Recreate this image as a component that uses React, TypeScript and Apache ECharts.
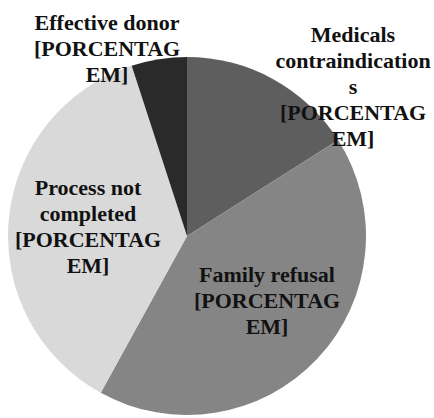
import React, { useEffect, useRef } from "react";
import * as echarts from "echarts";

const categories = [
  "Medicals\ncontraindication\ns",
  "Family refusal",
  "Process not\ncompleted",
  "Effective donor",
];
const values = [16, 42, 37, 5];
const percentLabel = "[PORCENTAG\nEM]";
const sliceColors = ["#5e5e5e", "#858585", "#d9d9d9", "#2a2a2a"];
const labelSpots: [number, number][] = [
  [353, 86],
  [267, 300],
  [88, 226],
  [107, 48],
];
const LINE_H = 26;

export default function App() {
  const ref = useRef<HTMLDivElement>(null);
  useEffect(() => {
    document.body.style.margin = "0";
    const chart = echarts.init(ref.current!, undefined, { renderer: "svg" });
    const labelTexts: any[] = [];
    categories.forEach((c, i) => {
      const lines = (c + "\n" + percentLabel).split("\n");
      lines.forEach((ln, k) => {
        labelTexts.push({
          type: "text",
          x: labelSpots[i][0],
          y: labelSpots[i][1] + (k - (lines.length - 1) / 2) * LINE_H,
          z: 10,
          style: {
            text: ln,
            fontFamily: "Liberation Serif, Times New Roman, serif",
            fontSize: 22,
            fontWeight: "bold",
            fill: "#111111",
            align: "center",
            verticalAlign: "middle",
          },
        });
      });
    });
    chart.setOption({
      animation: false,
      backgroundColor: "#ffffff",
      series: [
        {
          type: "pie",
          center: [187, 236],
          radius: 179,
          startAngle: 90,
          clockwise: true,
          data: categories.map((c, i) => ({
            name: c,
            value: values[i],
            itemStyle: { color: sliceColors[i] },
          })),
          itemStyle: { borderWidth: 0 },
          label: { show: false },
          labelLine: { show: false },
          emphasis: { disabled: true },
        },
      ],
      graphic: labelTexts,
    });
    return () => chart.dispose();
  }, []);
  return (
    <div
      ref={ref}
      style={{ position: "absolute", left: 0, top: 0, width: 434, height: 418 }}
    />
  );
}
